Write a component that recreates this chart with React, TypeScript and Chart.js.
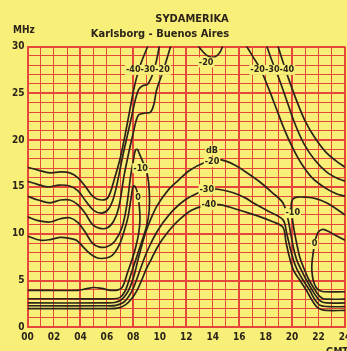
import React, { useEffect, useRef } from "react";
import { Chart, registerables } from "chart.js";
Chart.register(...registerables);

type P = [number, number];

// Axis ticks
const hourTickLabels = ["00", "02", "04", "06", "08", "10", "12", "14", "16", "18", "20", "22", "24"];
const freqTickLabels = [0, 5, 10, 15, 20, 25, 30];

// Contour lines, [hour GMT, MHz]
const minus40UpperLeft: P[] = [[0,17.1],[0.8,16.8],[1.7,16.5],[2.5,16.6],[3.2,16.5],[3.8,16.0],[4.4,15.0],[5.0,13.9],[5.6,13.6],[6.1,13.9],[6.6,16.0],[7.0,18.0],[7.3,20.0],[7.75,23.3],[8.0,25.2],[8.25,26.7],[8.6,28.3],[9.2,30.4]];
const minus30UpperLeft: P[] = [[0,15.6],[0.7,15.3],[1.5,15.0],[2.4,15.2],[3.2,15.1],[3.8,14.6],[4.4,13.5],[5.0,12.5],[5.6,12.2],[6.1,12.6],[6.5,13.8],[6.9,16.2],[7.2,18.3],[7.55,20.5],[7.9,22.7],[8.15,24.3],[8.4,25.4],[8.7,25.8],[9.1,26.0],[9.5,27.2],[9.8,28.8],[10.0,30.4]];
const minus20UpperLeft: P[] = [[0,14.0],[0.8,13.6],[1.7,13.3],[2.5,13.6],[3.2,13.6],[3.8,13.1],[4.35,12.2],[4.9,11.0],[5.4,10.6],[6.0,10.6],[6.5,11.3],[6.9,12.8],[7.3,16.2],[7.6,18.3],[7.95,20.5],[8.2,22.0],[8.4,22.7],[8.9,22.9],[9.3,23.0],[9.55,23.8],[9.75,25.3],[10.3,27.6],[10.9,30.4]];
const minus10Left: P[] = [[0,11.8],[0.8,11.4],[1.7,11.25],[2.5,11.6],[3.2,11.7],[3.8,11.2],[4.35,10.2],[4.9,9.0],[5.4,8.6],[6.0,8.6],[6.6,9.2],[7.15,10.7],[7.5,13.0],[7.8,16.2],[8.0,17.8],[8.15,18.9],[8.3,19.0],[8.5,18.4],[8.8,17.4],[9.05,16.4],[9.2,14.7],[9.2,12.5],[9.0,10.8],[8.6,9.0],[8.2,7.3],[7.85,5.8],[7.6,4.7],[7.35,3.8],[7.0,3.2],[6.5,3.05],[3.0,3.05],[0,3.05]];
const zeroLeft: P[] = [[0,9.75],[1.0,9.3],[1.8,9.4],[2.5,9.6],[3.2,9.5],[3.7,9.3],[4.2,8.6],[4.7,7.9],[5.2,7.45],[5.6,7.35],[6.2,7.5],[6.6,8.0],[7.0,9.0],[7.35,10.5],[7.6,11.8],[7.85,14.0],[8.0,15.1],[8.15,15.0],[8.3,14.4],[8.45,13.0],[8.5,11.5],[8.4,10.0],[8.15,8.4],[7.85,7.0],[7.55,5.8],[7.35,4.9],[7.15,4.25],[6.85,4.0],[6.3,3.95],[5.6,4.15],[5.0,4.25],[4.4,4.1],[3.8,3.95],[0,3.95]];
const minus20Lower: P[] = [[0,2.6],[6.0,2.6],[6.6,2.65],[7.1,2.95],[7.45,3.5],[7.75,4.3],[8.05,5.5],[8.35,7.2],[8.65,8.8],[8.95,10.2],[9.3,11.5],[9.8,13.0],[10.6,14.6],[11.4,15.7],[12.3,16.8],[13.4,17.6],[14.3,17.9],[15.0,17.75],[15.7,17.3],[16.5,16.6],[17.5,15.6],[18.5,14.4],[19.3,13.3],[19.65,11.8],[19.9,10.0],[20.1,8.5],[20.35,7.2],[20.7,6.1],[21.1,5.0],[21.55,3.9],[21.9,3.15],[22.2,2.75],[22.6,2.6],[24,2.6]];
const minus30Lower: P[] = [[0,2.3],[6.0,2.3],[6.7,2.35],[7.3,2.7],[7.7,3.4],[8.0,4.2],[8.3,5.3],[8.6,6.5],[8.95,7.8],[9.3,8.9],[9.7,10.0],[10.2,11.1],[11.0,12.5],[11.9,13.6],[12.8,14.3],[13.6,14.7],[14.4,14.75],[15.5,14.4],[16.5,13.8],[17.05,13.3],[18.2,12.4],[19.3,11.5],[19.6,10.0],[19.85,8.5],[20.1,7.2],[20.4,6.1],[20.85,5.0],[21.35,3.9],[21.7,3.0],[22.05,2.4],[22.4,2.25],[22.8,2.2],[24,2.2]];
const minus40Lower: P[] = [[0,2.0],[6.0,2.0],[6.8,2.05],[7.4,2.4],[7.9,3.1],[8.3,4.0],[8.65,5.1],[9.0,6.3],[9.4,7.4],[9.8,8.5],[10.2,9.4],[10.8,10.5],[11.4,11.4],[12.4,12.5],[13.4,13.0],[14.5,13.1],[15.5,12.75],[16.5,12.3],[17.6,11.8],[18.5,11.3],[19.3,10.7],[19.55,9.0],[19.8,7.5],[20.1,6.1],[20.6,5.0],[21.1,3.9],[21.5,2.9],[21.85,2.2],[22.2,1.9],[22.6,1.8],[24,1.8]];
const minus10Right: P[] = [[24,12.0],[23.3,12.7],[22.6,13.3],[21.8,13.75],[21.0,13.9],[20.4,13.9],[20.1,13.75],[19.95,13.3],[19.95,12.5],[20.05,11.3],[20.2,10.0],[20.4,8.6],[20.6,7.4],[20.95,6.1],[21.3,5.0],[21.75,3.95],[22.05,3.35],[22.35,3.05],[22.7,3.0],[24,3.0]];
const zeroRight: P[] = [[24,9.3],[23.2,9.9],[22.6,10.35],[22.25,10.45],[21.95,10.1],[21.75,9.3],[21.6,8.0],[21.5,6.8],[21.5,6.0],[21.6,5.0],[21.8,4.3],[22.05,3.95],[22.4,3.8],[24,3.8]];
const minus20UpperRight: P[] = [[16.4,30.4],[17.0,29.0],[17.6,27.6],[18.2,25.6],[18.8,23.4],[19.4,21.2],[20.0,19.3],[20.7,17.5],[21.5,16.0],[22.5,14.9],[23.3,14.3],[24,14.0]];
const minus30UpperRight: P[] = [[18.0,30.4],[18.5,28.4],[19.0,26.6],[19.6,24.2],[20.2,21.8],[20.9,19.6],[21.7,17.9],[22.6,16.6],[23.3,16.0],[24,15.6]];
const minus40UpperRight: P[] = [[18.85,30.4],[19.3,28.4],[19.8,26.3],[20.4,24.0],[21.0,22.0],[21.7,20.3],[22.5,18.8],[23.3,17.8],[24,17.1]];
const minus20TopDip: P[] = [[12.7,30.5],[13.1,29.7],[13.5,29.1],[13.9,28.85],[14.3,29.0],[14.6,29.5],[14.85,30.5]];

const contours: P[][] = [
  minus40UpperLeft, minus30UpperLeft, minus20UpperLeft, minus10Left, zeroLeft,
  minus20Lower, minus30Lower, minus40Lower, minus10Right, zeroRight,
  minus20UpperRight, minus30UpperRight, minus40UpperRight, minus20TopDip,
];

// Contour labels: text, hour, MHz
const labelTexts = ["-40-30-20", "-20", "-20-30-40", "dB", "-20", "-30", "-40", "-10", "0", "-10", "0"];
const labelHours = [9.1, 13.5, 18.5, 13.95, 13.95, 13.55, 13.7, 8.55, 8.35, 20.05, 21.7];
const labelMHz = [27.5, 28.3, 27.5, 18.9, 17.65, 14.75, 13.05, 17.0, 13.9, 12.2, 8.9];

const FONT = "'DejaVu Sans Condensed', 'Liberation Sans Narrow', 'DejaVu Sans', sans-serif";
const YELLOW = "#f7ef78";
const RED = "#e5483a";
const INK = "#2c2418";

const textPlugin = {
  id: "texts",
  afterDatasetsDraw(chart: any) {
    const ctx = chart.ctx as CanvasRenderingContext2D;
    const xs = chart.scales.x;
    const ys = chart.scales.y;
    ctx.save();
    ctx.font = `bold 9px ${FONT}`;
    ctx.textAlign = "center";
    ctx.textBaseline = "middle";
    for (let i = 0; i < labelTexts.length; i++) {
      const px = xs.getPixelForValue(labelHours[i]);
      const py = ys.getPixelForValue(labelMHz[i]);
      const w = ctx.measureText(labelTexts[i]).width;
      ctx.fillStyle = YELLOW;
      ctx.fillRect(px - w / 2 - 1, py - 5, w + 2, 10);
      ctx.fillStyle = INK;
      ctx.fillText(labelTexts[i], px, py);
    }
    ctx.fillStyle = INK;
    ctx.font = `bold 11px ${FONT}`;
    ctx.fillText("SYDAMERIKA", 192, 19);
    ctx.fillText("Karlsborg - Buenos Aires", 160, 34);
    ctx.font = `bold 10px ${FONT}`;
    ctx.textAlign = "left";
    ctx.fillText("MHz", 13, 30);
    ctx.fillText("GMT", 326, 352);
    ctx.restore();
  },
};

export default function App() {
  const ref = useRef<HTMLCanvasElement>(null);
  useEffect(() => {
    document.body.style.margin = "0";
    document.body.style.background = YELLOW;
    const chart = new Chart(ref.current!, {
      type: "scatter",
      data: {
        datasets: contours.map((c) => ({
          data: c.map(([x, y]) => ({ x, y })),
          showLine: true,
          borderColor: INK,
          borderWidth: 1.7,
          pointRadius: 0,
          tension: 0.35,
          fill: false,
        })),
      },
      options: {
        responsive: false,
        animation: false,
        events: [],
        layout: { padding: { top: 46.5, right: 2, left: 0, bottom: 0 } },
        plugins: { legend: { display: false }, tooltip: { enabled: false } },
        scales: {
          x: {
            type: "linear",
            min: 0,
            max: 24,
            afterFit(s: any) { s.height = 23.7; s.paddingLeft = 0; s.paddingRight = 0; },
            ticks: {
              stepSize: 1,
              autoSkip: false,
              maxRotation: 0,
              padding: 4,
              color: INK,
              font: { family: FONT, size: 10, weight: "bold" },
              callback: (v: any) => (Number(v) % 2 === 0 ? hourTickLabels[Number(v) / 2] : ""),
            },
            grid: {
              color: RED,
              drawTicks: false,
              lineWidth: (c: any) => (c.tick && c.tick.value % 4 === 0 ? 2 : 1),
            },
            border: { color: RED, width: 2 },
          },
          y: {
            type: "linear",
            min: 0,
            max: 30,
            afterFit(s: any) { s.width = 27.5; s.paddingTop = 0; s.paddingBottom = 0; },
            ticks: {
              stepSize: 1,
              autoSkip: false,
              padding: 3,
              color: INK,
              font: { family: FONT, size: 10, weight: "bold" },
              callback: (v: any) => (freqTickLabels.includes(Number(v)) ? String(v) : ""),
            },
            grid: {
              color: RED,
              drawTicks: false,
              lineWidth: (c: any) => (c.tick && c.tick.value % 5 === 0 ? 2 : 1),
            },
            border: { color: RED, width: 2 },
          },
        },
      },
      plugins: [textPlugin],
    } as any);
    return () => chart.destroy();
  }, []);
  return (
    <div style={{ position: "fixed", left: 0, top: 0, width: 347, height: 351, background: YELLOW }}>
      <canvas ref={ref} width={347} height={351} style={{ display: "block" }} />
    </div>
  );
}
